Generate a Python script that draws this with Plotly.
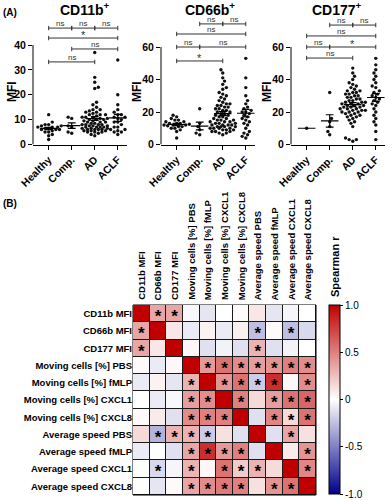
import numpy as np
import plotly.graph_objects as go

W, H = 392, 500
FONT = "Liberation Sans, Arial, Helvetica, sans-serif"

groups = ["Healthy", "Comp.", "AD", "ACLF"]

# ---------------- Panel A data (MFI values per patient group) ----------------
cd11b_healthy = [12, 9, 8, 8, 7.5, 7.5, 7, 7, 7, 6.5, 6.5, 6, 6, 6, 5.5, 5, 5, 4, 3.5, 2]
cd11b_comp = [11, 10.5, 7.5, 7, 5, 4.5]
cd11b_ad = [37, 27, 25, 23, 22.5, 17, 16, 15, 14, 14, 13.5, 13, 13, 12.5, 12, 12, 12, 11.5, 11, 11,
            11, 10.5, 10.5, 10, 10, 10, 9.5, 9.5, 9, 9, 9, 8.5, 8.5, 8, 8, 8, 8, 7.5, 7.5, 7.5,
            7, 7, 7, 7, 6.5, 6.5, 6.5, 6, 6, 6, 6, 5.5, 5.5, 5.5, 5, 5, 5, 4.5, 4, 3.5]
cd11b_aclf = [34, 20, 16, 14, 13, 12, 12, 11, 11, 10.5, 10, 9, 9, 8, 7, 7, 6, 6, 5.5, 5, 5, 4]

cd66b_healthy = [18, 17, 16, 15, 15, 14, 14, 13, 13, 13, 12.5, 12, 12, 12, 11.5, 11, 11, 10, 10, 9, 8, 4]
cd66b_comp = [22, 13, 11, 9, 7, 6]
cd66b_ad = [46, 44, 41, 39, 37, 35, 34, 32, 31, 30, 29, 28, 27, 26, 25, 25, 24, 24, 23, 23,
            22, 22, 21, 21, 20, 20, 19, 19, 18, 18, 17, 17, 16, 16, 15, 15, 15, 14, 14, 14,
            13, 13, 13, 12, 12, 12, 12, 11, 11, 11, 11, 10, 10, 10, 10, 9, 9, 9, 8, 8, 8, 7, 7, 6]
cd66b_aclf = [53, 41, 35, 30, 27, 25, 23, 22, 21, 20, 20, 19, 18, 17, 16, 15, 14, 13, 12, 10, 8, 7, 6, 5, 4]

cd177_healthy = [10]
cd177_comp = [32, 16, 14, 11, 8, 6]
cd177_ad = [47, 44, 42, 40, 38, 37, 36, 35, 34, 33, 33, 32, 32, 31, 31, 30, 30, 29, 29, 28,
            28, 27, 27, 26, 26, 26, 25, 25, 25, 24, 24, 24, 23, 23, 23, 22, 22, 22, 21, 21,
            21, 20, 20, 20, 19, 19, 18, 18, 17, 17, 16, 15, 14, 13, 11, 4, 3, 3, 2]
cd177_aclf = [53, 49, 46, 44, 42, 40, 38, 36, 35, 33, 32, 31, 30, 29, 28, 27, 26, 25, 24, 22,
              20, 18, 16, 14, 12, 8, 3]

panel_titles = ["CD11b<sup>+</sup>", "CD66b<sup>+</sup>", "CD177<sup>+</sup>"]
y_ticks = [[0, 10, 20, 30, 40], [0, 20, 40, 60], [0, 20, 40, 60]]

# pairwise comparisons (group i, group j, label)
cd11b_comparisons = [(0, 1, "ns"), (1, 2, "ns"), (2, 3, "ns"), (0, 3, "*"), (1, 3, "ns"), (0, 2, "ns")]
cd66b_comparisons = [(1, 2, "ns"), (2, 3, "ns"), (0, 3, "ns"), (0, 1, "ns"), (1, 3, "ns"), (0, 2, "*")]
cd177_comparisons = [(1, 2, "ns"), (2, 3, "ns"), (0, 3, "ns"), (0, 1, "ns"), (1, 3, "*"), (0, 2, "ns")]

# ---------------- Panel B data (Spearman r matrix) ----------------
hm_labels = ["CD11b MFI", "CD66b MFI", "CD177 MFI",
             "Moving cells [%] PBS", "Moving cells [%] fMLP", "Moving cells [%] CXCL1", "Moving cells [%] CXCL8",
             "Average speed PBS", "Average speed fMLP", "Average speed CXCL1", "Average speed CXCL8"]
spearman_r = [
    [1.00, 0.35, 0.35, -0.03, -0.10, 0.00, 0.02, 0.10, -0.10, -0.04, 0.00],
    [0.35, 1.00, 0.10, -0.08, 0.05, -0.08, 0.06, -0.25, 0.02, -0.25, -0.15],
    [0.35, 0.10, 1.00, 0.03, -0.12, -0.05, -0.12, 0.30, -0.12, -0.05, 0.00],
    [0.02, -0.08, 0.03, 1.00, 0.40, 0.55, 0.45, 0.38, 0.42, 0.50, 0.45],
    [-0.08, 0.05, -0.10, 0.30, 1.00, 0.42, 0.55, -0.20, 0.82, 0.03, 0.45],
    [0.00, -0.08, -0.03, 0.38, 0.45, 1.00, 0.50, 0.15, 0.38, 0.55, 0.60],
    [0.02, 0.08, -0.12, 0.45, 0.50, 0.50, 1.00, -0.12, 0.48, 0.15, 0.55],
    [0.15, -0.30, 0.30, 0.30, -0.20, 0.12, -0.12, 1.00, -0.12, 0.35, 0.12],
    [-0.08, 0.00, -0.12, 0.35, 0.82, 0.40, 0.50, -0.12, 1.00, 0.08, 0.42],
    [0.00, -0.15, -0.04, 0.30, 0.03, 0.55, 0.20, 0.30, 0.14, 1.00, 0.48],
    [0.00, -0.10, 0.02, 0.35, 0.45, 0.52, 0.50, 0.12, 0.42, 0.55, 1.00],
]
significant = [
    [0, 1, 1, 0, 0, 0, 0, 0, 0, 0, 0],
    [1, 0, 0, 0, 0, 0, 0, 1, 0, 1, 0],
    [1, 0, 0, 0, 0, 0, 0, 1, 0, 0, 0],
    [0, 0, 0, 0, 1, 1, 1, 1, 1, 1, 1],
    [0, 0, 0, 1, 0, 1, 1, 1, 1, 0, 1],
    [0, 0, 0, 1, 1, 0, 1, 0, 1, 1, 1],
    [0, 0, 0, 1, 1, 1, 0, 0, 1, 1, 1],
    [0, 1, 1, 1, 1, 0, 0, 0, 0, 1, 0],
    [0, 0, 0, 1, 1, 1, 1, 0, 0, 0, 1],
    [0, 1, 0, 1, 0, 1, 1, 1, 0, 0, 1],
    [0, 0, 0, 1, 1, 1, 1, 0, 1, 1, 0],
]

# ---------------- layout helpers ----------------
def px_x(p):
    return p / W

def px_y(p):
    return 1 - p / H

panel_data = [
    [cd11b_healthy, cd11b_comp, cd11b_ad, cd11b_aclf],
    [cd66b_healthy, cd66b_comp, cd66b_ad, cd66b_aclf],
    [cd177_healthy, cd177_comp, cd177_ad, cd177_aclf],
]
panel_comps = [cd11b_comparisons, cd66b_comparisons, cd177_comparisons]
bracket_levels = [[46.8, 46.8, 46.8, 42.8, 38.4, 33.2],
                  [74.2, 74.2, 68.0, 60.0, 60.0, 51.4],
                  [73.5, 73.5, 66.8, 60.0, 60.0, 53.2]]
panel_xpx = [(33, 127), (161, 255), (291, 385)]
y_bottom_px, y_top_px = 144.5, 18
ppu_y = [(144.5 - 45) / 40, (144.5 - 47) / 60, (144.5 - 47) / 60]
XR = [-0.68, 3.4]
ppu_x = (127 - 33) / (XR[1] - XR[0])
mfi_px = [12, 137, 267]
title_px = [85, 210, 337]


def swarm(vals, ppy, ppx, d=3.6, maxw=13):
    vals = np.asarray(vals, float)
    order = np.argsort(vals)
    placed = []
    offs = np.zeros(len(vals))
    step = d * 0.5
    cands = [0.0]
    k = 1
    while k * step <= maxw:
        cands += [k * step, -k * step]
        k += 1
    for n, idx in enumerate(order):
        y = vals[idx] * ppy
        near = [(px_, py_) for (px_, py_) in placed if abs(py_ - y) < d]
        best, bestd = 0.0, -1
        cl = cands if n % 2 == 0 else [-c for c in cands]
        for c in cl:
            md = min([np.hypot(c - a, y - b) for a, b in near], default=99)
            if md >= d:
                best = c
                bestd = md
                break
            if md > bestd:
                best, bestd = c, md
        placed.append((best, y))
        offs[idx] = best / ppx
    return offs


fig = go.Figure()
layout_axes = {}
shapes = []
annotations = []


def paper_text(xp, yp, text, size, angle=0, xanchor="center", yanchor="middle", bold=True):
    annotations.append(dict(x=px_x(xp), y=px_y(yp), xref="paper", yref="paper", text=text,
                            textangle=angle, showarrow=False, xanchor=xanchor, yanchor=yanchor,
                            borderpad=0,
                            font=dict(size=size, family=FONT, color="black",
                                      weight="bold" if bold else "normal")))


for p in range(3):
    ax = "" if p == 0 else str(p + 1)
    xa, ya = "x" + ax, "y" + ax
    ytop = (y_bottom_px - y_top_px) / ppu_y[p]
    for g, vals in enumerate(panel_data[p]):
        offs = swarm(vals, ppu_y[p], ppu_x)
        fig.add_trace(go.Scatter(x=g + offs, y=vals, mode="markers", xaxis=xa, yaxis=ya,
                                 marker=dict(size=3.4, color="#111111"), cliponaxis=False,
                                 showlegend=False, hoverinfo="y"))
        arr = np.asarray(vals, float)
        m = arr.mean()
        sem = arr.std(ddof=1) / np.sqrt(len(arr)) if len(arr) > 1 else 0.0
        lx = [g - 0.38, g + 0.38, None]
        ly = [m, m, None]
        if sem > 0:
            lx += [g, g, None, g - 0.17, g + 0.17, None, g - 0.17, g + 0.17]
            ly += [m - sem, m + sem, None, m - sem, m - sem, None, m + sem, m + sem]
        fig.add_trace(go.Scatter(x=lx, y=ly, mode="lines", xaxis=xa, yaxis=ya,
                                 line=dict(color="black", width=1.2), cliponaxis=False,
                                 showlegend=False, hoverinfo="skip"))
    # significance brackets
    cap = 2.2 / ppu_y[p]
    bx, by = [], []
    for (i, j, lab), lev in zip(panel_comps[p], bracket_levels[p]):
        bx += [i, i, None, i, j, None, j, j, None]
        by += [lev - cap, lev + cap, None, lev, lev, None, lev - cap, lev + cap, None]
        annotations.append(dict(x=(i + j) / 2, y=lev, xref=xa, yref=ya, text=lab, showarrow=False,
                                xanchor="center", yanchor="bottom", yshift=-1 if lab == "ns" else -4,
                                borderpad=0,
                                font=dict(size=8 if lab == "ns" else 11, color="#333333", family=FONT)))
    fig.add_trace(go.Scatter(x=bx, y=by, mode="lines", xaxis=xa, yaxis=ya,
                             line=dict(color="#333333", width=1), cliponaxis=False,
                             showlegend=False, hoverinfo="skip"))
    x0, x1 = panel_xpx[p]
    layout_axes["xaxis" + ax] = dict(
        domain=[px_x(x0), px_x(x1)], range=XR, anchor=ya, tickmode="array",
        tickvals=list(range(len(groups))), ticktext=groups, tickangle=-45,
        tickfont=dict(size=10.5, family=FONT, color="black", weight="bold"),
        ticks="outside", ticklen=4, tickwidth=1, tickcolor="black",
        showline=True, linecolor="black", linewidth=1, showgrid=False, zeroline=False,
        automargin=False, fixedrange=True)
    layout_axes["yaxis" + ax] = dict(
        domain=[px_y(y_bottom_px), px_y(y_top_px)], range=[0, ytop], anchor=xa,
        tickmode="array", tickvals=y_ticks[p],
        tickfont=dict(size=10.5, family=FONT, color="black", weight="bold"),
        ticks="outside", ticklen=4, tickwidth=1, tickcolor="black",
        showline=False, showgrid=False, zeroline=False, automargin=False, fixedrange=True)
    shapes.append(dict(type="line", xref=xa + " domain", yref=ya, x0=0, x1=0, y0=0, y1=y_ticks[p][-1],
                       line=dict(color="black", width=1)))
    paper_text(title_px[p], 8.5, panel_titles[p], 14)
    paper_text(mfi_px[p], 92, "MFI", 12, angle=-90)

# ---------------- heatmap ----------------
n = len(hm_labels)
idx = list(range(n))
fig.add_trace(go.Heatmap(
    z=spearman_r, x=idx, y=idx, xaxis="x4", yaxis="y4", zmin=-1, zmax=1,
    colorscale=[[0, "rgb(0,0,139)"], [0.5, "rgb(255,255,255)"], [1, "rgb(192,0,0)"]],
    xgap=1, ygap=1, hoverinfo="z",
    colorbar=dict(x=px_x(329), xanchor="left", y=px_y(494), yanchor="bottom",
                  len=189, lenmode="pixels", thickness=11, thicknessmode="pixels",
                  outlinewidth=1, outlinecolor="black", xpad=0, ypad=0,
                  tickmode="array", tickvals=[-1, -0.5, 0, 0.5, 1],
                  ticktext=["-1.0", "-0.5", "0", "0.5", "1.0"],
                  ticks="outside", ticklen=3, tickcolor="black",
                  tickfont=dict(size=10, family=FONT, color="black"))))
sx, sy = [], []
for i in range(n):
    for j in range(n):
        if significant[i][j]:
            sx.append(j)
            sy.append(i + 0.24)
fig.add_trace(go.Scatter(x=sx, y=sy, mode="text", text=["*"] * len(sx), xaxis="x4", yaxis="y4",
                         textfont=dict(size=17, color="black", family=FONT, weight="bold"),
                         showlegend=False, hoverinfo="skip"))
layout_axes["xaxis4"] = dict(domain=[px_x(133), px_x(316)], range=[-0.5, n - 0.5], anchor="y4",
                             side="top", tickmode="array", tickvals=idx, ticktext=[""] * n,
                             ticks="", showgrid=False, zeroline=False, showline=False,
                             showticklabels=False, automargin=False, fixedrange=True)
layout_axes["yaxis4"] = dict(domain=[px_y(495), px_y(305)], range=[n - 0.5, -0.5], anchor="x4",
                             tickmode="array", tickvals=idx, ticktext=hm_labels, ticks="",
                             showgrid=False, zeroline=False, showline=False,
                             tickfont=dict(size=9.5, family=FONT, color="black", weight="bold"),
                             automargin=False, fixedrange=True)
# column labels written vertically above the grid
for j, lab in enumerate(hm_labels):
    annotations.append(dict(x=j, y=0, xref="x4", yref="y4 domain", text=lab, textangle=-90,
                            showarrow=False, xanchor="center", yanchor="bottom", yshift=193,
                            font=dict(size=9.5, family=FONT, color="black", weight="bold")))
shapes.append(dict(type="rect", xref="x4 domain", yref="y4 domain", x0=0, x1=1, y0=0, y1=1,
                   fillcolor="#1a1a1a", line=dict(color="black", width=1), layer="below"))

paper_text(335, 267, "Spearman r", 11, angle=-90)
paper_text(2, 12, "(A)", 10, xanchor="left")
paper_text(2, 203, "(B)", 10, xanchor="left")

fig.update_layout(width=W, height=H, margin=dict(l=0, r=0, t=0, b=0),
                  paper_bgcolor="white", plot_bgcolor="white", showlegend=False,
                  font=dict(family=FONT, color="black"),
                  shapes=shapes, annotations=annotations, **layout_axes)
fig.write_html("out.html", config={"displayModeBar": False},
               post_script="document.body.style.margin='0';document.body.style.padding='0';")
